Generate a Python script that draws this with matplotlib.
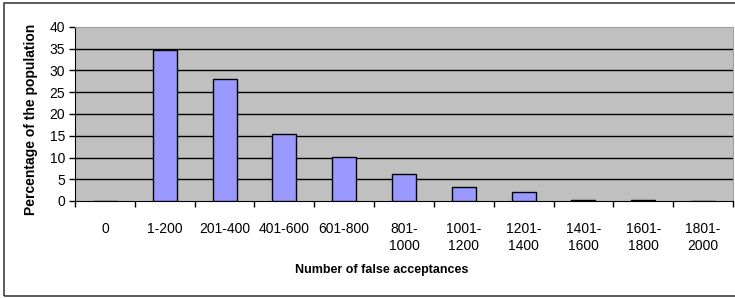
import numpy as np
import matplotlib
matplotlib.use('Agg')
import matplotlib.pyplot as plt
from matplotlib.patches import Rectangle

plt.rcParams['font.family'] = ['Liberation Sans', 'DejaVu Sans']

# Data
categories = ['0', '1-200', '201-400', '401-600', '601-800', '801-\n1000',
              '1001-\n1200', '1201-\n1400', '1401-\n1600', '1601-\n1800', '1801-\n2000']
percentages = [0, 34.6, 28.0, 15.5, 10.2, 6.1, 3.3, 2.1, 0.3, 0.3, 0]
y_ticks = [0, 5, 10, 15, 20, 25, 30, 35, 40]

fig = plt.figure(figsize=(7.35, 2.98), dpi=100)
ax = fig.add_axes([75 / 735, 1 - 201 / 298, 658 / 735, 174 / 298])

x = np.arange(len(categories))
ax.set_facecolor('#c0c0c0')
ax.bar(x, percentages, width=0.4, color='#9999ff', edgecolor='black', linewidth=1, zorder=3)

# horizontal gridlines
for yv in y_ticks[1:-1]:
    ax.axhline(yv, color='black', linewidth=1, zorder=2)

ax.set_xlim(-0.5, len(categories) - 0.5)
ax.set_ylim(0, 40)
ax.set_yticks(y_ticks)
ax.set_xticks(x)
ax.set_xticklabels(categories, fontsize=10, linespacing=1.3, va='top')
ax.set_xticks(np.arange(-0.5, len(categories)), minor=True)
ax.tick_params(axis='x', which='major', length=0, pad=15)
ax.tick_params(axis='x', which='minor', length=4, width=1, direction='out')
ax.tick_params(axis='y', length=4, width=1, direction='out', labelsize=10, pad=3)

for s in ['top', 'right']:
    ax.spines[s].set_color('#a0a0a0')
for s in ['left', 'bottom']:
    ax.spines[s].set_color('black')

fig.text(31 / 735, 1 - 119 / 298, 'Percentage of the population', rotation=90,
         ha='center', va='center', fontsize=10, fontweight='bold')
fig.text(382 / 735, 1 - 270 / 298, 'Number of false acceptances',
         ha='center', va='center', fontsize=9, fontweight='bold')

# outer chart frame
fig.patches.append(Rectangle((4 / 735, 2 / 298), 2, 1 - 5 / 298, transform=fig.transFigure,
                             fill=False, edgecolor='#404040', linewidth=1.2))

fig.savefig('out.png', dpi=100)
